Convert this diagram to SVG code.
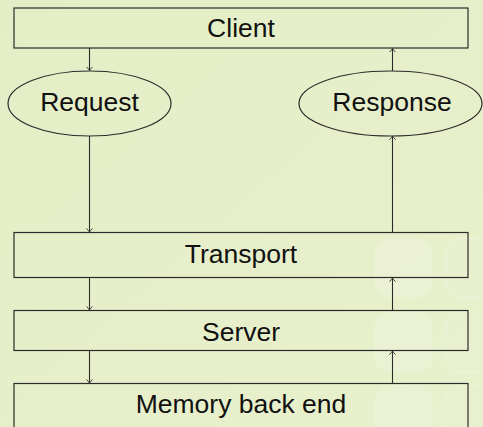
<svg xmlns="http://www.w3.org/2000/svg" width="483" height="427" viewBox="0 0 483 427">
  <defs>
    <linearGradient id="bg" x1="0" y1="0" x2="1" y2="1">
      <stop offset="0" stop-color="#e4eec6"/>
      <stop offset="0.5" stop-color="#e6efc9"/>
      <stop offset="1" stop-color="#e8f0cd"/>
    </linearGradient>
    <marker id="tip" viewBox="-5 -4 6 8" markerWidth="6" markerHeight="8" refX="0" refY="0" orient="auto" markerUnits="userSpaceOnUse">
      <path d="M -3.6 -3 Q -1.2 -0.6 0 0 Q -1.2 0.6 -3.6 3" fill="none" stroke="#2b2b2b" stroke-width="0.9"/>
    </marker>
    <style>
      .box { fill: none; stroke: #2b2b2b; stroke-width: 1.2; }
      .lbl { font-family: "Liberation Sans", "DejaVu Sans", sans-serif; font-size: 26.5px; fill: #111; text-anchor: middle; }
      .edge { fill: none; stroke: #2b2b2b; stroke-width: 1.1; marker-end: url(#tip); }
      .tile { fill: #ffffff; fill-opacity: 0.16; }
      .tile2 { fill: #ffffff; fill-opacity: 0.06; stroke: #ffffff; stroke-opacity: 0.25; stroke-width: 1; }
    </style>
  </defs>

  <!-- page background with faint decorative tiles -->
  <rect x="0" y="0" width="483" height="427" fill="url(#bg)"/>
  <g id="decor">
    <rect class="tile" x="374" y="238" width="59" height="60" rx="16"/>
    <rect class="tile" x="374" y="312" width="59" height="60" rx="16"/>
    <rect class="tile" x="374" y="385" width="59" height="60" rx="16"/>
    <rect class="tile2" x="445" y="238" width="59" height="60" rx="16"/>
    <rect class="tile2" x="445" y="312" width="59" height="60" rx="16"/>
    <rect class="tile2" x="445" y="385" width="59" height="60" rx="16"/>
  </g>

  <g id="client">
    <rect class="box" x="14" y="8" width="454" height="40"/>
    <text class="lbl" x="241" y="37">Client</text>
  </g>
  <g id="request">
    <ellipse class="box" cx="89.5" cy="103.5" rx="81.5" ry="32.5"/>
    <text class="lbl" x="89.5" y="111">Request</text>
  </g>
  <g id="response">
    <ellipse class="box" cx="390.5" cy="103.5" rx="91.5" ry="32.5"/>
    <text class="lbl" x="392" y="111">Response</text>
  </g>
  <g id="transport">
    <rect class="box" x="14" y="232.5" width="454" height="45"/>
    <text class="lbl" x="241" y="262.5">Transport</text>
  </g>
  <g id="server">
    <rect class="box" x="14" y="310.5" width="454" height="40"/>
    <text class="lbl" x="241" y="341">Server</text>
  </g>
  <g id="memory">
    <rect class="box" x="14" y="383.5" width="454" height="60"/>
    <text class="lbl" x="241" y="412.5">Memory back end</text>
  </g>

  <g id="connectors">
    <!-- downward request path -->
    <line class="edge" x1="89.5" y1="48" x2="89.5" y2="70.5"/>
    <line class="edge" x1="89.5" y1="136" x2="89.5" y2="232"/>
    <line class="edge" x1="89.5" y1="278" x2="89.5" y2="310"/>
    <line class="edge" x1="89.5" y1="351" x2="89.5" y2="383"/>
    <!-- upward response path -->
    <line class="edge" x1="392.5" y1="383" x2="392.5" y2="351"/>
    <line class="edge" x1="392.5" y1="310" x2="392.5" y2="278"/>
    <line class="edge" x1="392.5" y1="232" x2="392.5" y2="136"/>
    <line class="edge" x1="392.5" y1="71" x2="392.5" y2="48.5"/>
  </g>
</svg>
